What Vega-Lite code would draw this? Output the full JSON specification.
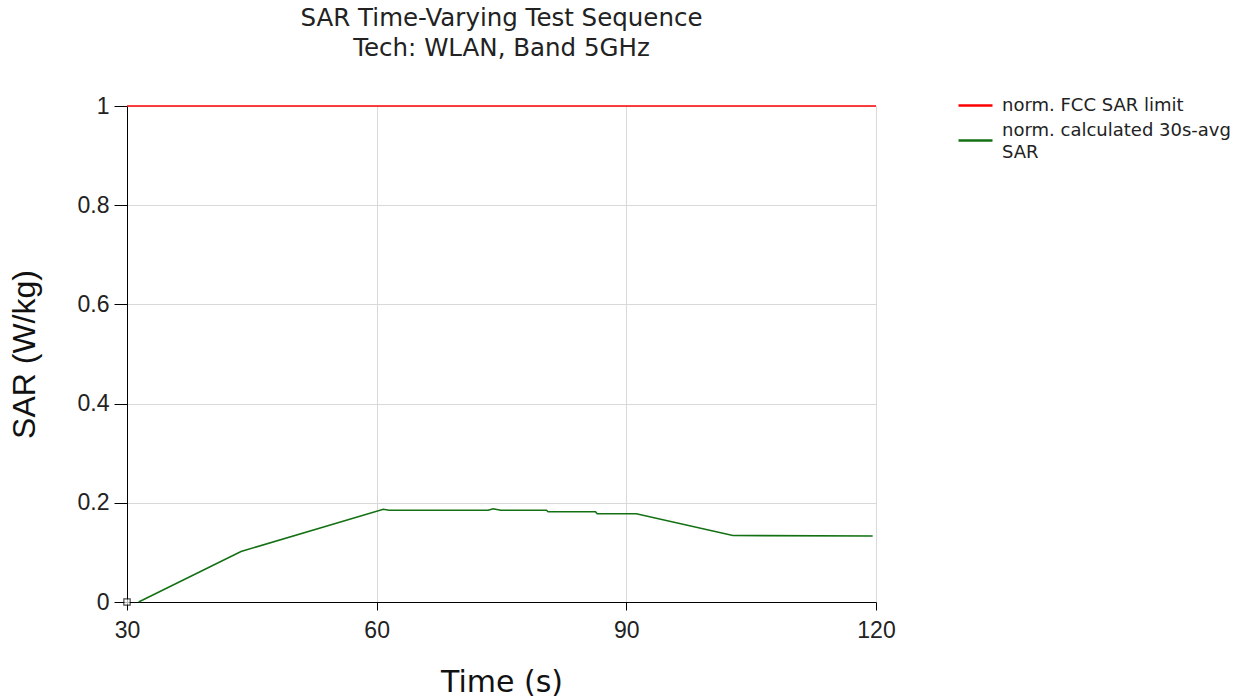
{
  "$schema": "https://vega.github.io/schema/vega-lite/v6.json",
  "autosize": {"type": "none"},
  "padding": {"left": 127, "top": 106, "right": 379, "bottom": 96},
  "width": 749,
  "height": 496,
  "background": "white",
  "title": {
    "text": ["SAR Time-Varying Test Sequence", "Tech: WLAN, Band 5GHz"],
    "font": "DejaVu Sans",
    "fontSize": 24.5,
    "fontWeight": "normal",
    "color": "#222222",
    "anchor": "middle",
    "frame": "group",
    "offset": 26,
    "lineHeight": 30
  },
  "config": {
    "view": {"stroke": null},
    "axis": {
      "labelFont": "Liberation Sans",
      "labelFontSize": 23,
      "labelColor": "#222222",
      "labelFlush": false,
      "titleFontWeight": "normal",
      "titleColor": "#111111",
      "gridColor": "#d9d9d9",
      "gridWidth": 1,
      "domainColor": "#000000",
      "tickColor": "#000000"
    }
  },
  "datasets": {
    "lines": [
      {"t": 30, "v": 1, "series": "norm. FCC SAR limit"},
      {"t": 120, "v": 1, "series": "norm. FCC SAR limit"},
      {"t": 31.4, "v": 0, "series": "norm. calculated 30s-avg SAR"},
      {"t": 43.7, "v": 0.102, "series": "norm. calculated 30s-avg SAR"},
      {"t": 60.8, "v": 0.187, "series": "norm. calculated 30s-avg SAR"},
      {"t": 61.5, "v": 0.185, "series": "norm. calculated 30s-avg SAR"},
      {"t": 73.4, "v": 0.185, "series": "norm. calculated 30s-avg SAR"},
      {"t": 74.0, "v": 0.188, "series": "norm. calculated 30s-avg SAR"},
      {"t": 74.9, "v": 0.185, "series": "norm. calculated 30s-avg SAR"},
      {"t": 80.4, "v": 0.185, "series": "norm. calculated 30s-avg SAR"},
      {"t": 80.6, "v": 0.182, "series": "norm. calculated 30s-avg SAR"},
      {"t": 86.3, "v": 0.182, "series": "norm. calculated 30s-avg SAR"},
      {"t": 86.5, "v": 0.178, "series": "norm. calculated 30s-avg SAR"},
      {"t": 91.2, "v": 0.178, "series": "norm. calculated 30s-avg SAR"},
      {"t": 102.8, "v": 0.134, "series": "norm. calculated 30s-avg SAR"},
      {"t": 119.6, "v": 0.133, "series": "norm. calculated 30s-avg SAR"}
    ],
    "origin": [{"t": 30, "v": 0}]
  },
  "layer": [
    {
      "data": {"name": "lines"},
      "mark": {"type": "line", "strokeWidth": 1.6, "clip": false},
      "encoding": {
        "x": {
          "field": "t", "type": "quantitative",
          "scale": {"domain": [30, 120], "nice": false, "zero": false},
          "axis": {
            "values": [30, 60, 90, 120],
            "title": "Time (s)",
            "titleFont": "DejaVu Sans",
            "titleFontSize": 30,
            "titlePadding": 25,
            "tickSize": 8,
            "labelPadding": 9,
            "grid": true
          }
        },
        "y": {
          "field": "v", "type": "quantitative",
          "scale": {"domain": [0, 1], "nice": false},
          "axis": {
            "values": [0, 0.2, 0.4, 0.6, 0.8, 1],
            "labelExpr": "datum.value == 0 ? '0' : datum.value == 1 ? '1' : format(datum.value, '.1f')",
            "title": "SAR (W/kg)",
            "titleFont": "Liberation Sans",
            "titleFontSize": 32,
            "titlePadding": 36,
            "tickSize": 13,
            "labelPadding": 5,
            "grid": true
          }
        },
        "color": {
          "field": "series", "type": "nominal",
          "scale": {
            "domain": ["norm. FCC SAR limit", "norm. calculated 30s-avg SAR"],
            "range": ["#ff0000", "#137013"]
          },
          "legend": {
            "title": null,
            "orient": "none",
            "legendX": 830,
            "legendY": -19,
            "symbolType": "stroke",
            "symbolSize": 1156,
            "symbolStrokeWidth": 2.5,
            "labelFont": "DejaVu Sans",
            "labelFontSize": 18,
            "labelColor": "#222222",
            "labelLimit": 400,
            "labelOffset": 8,
            "rowPadding": 6,
            "labelExpr": "datum.label == 'norm. calculated 30s-avg SAR' ? ['norm. calculated 30s-avg', 'SAR'] : datum.label",
            "encode": {
              "labels": {
                "update": {
                  "lineHeight": {"value": 22},
                  "dy": {"signal": "datum.value == 'norm. calculated 30s-avg SAR' ? -10 : 0"}
                }
              }
            }
          }
        }
      }
    },
    {
      "data": {"name": "origin"},
      "mark": {"type": "point", "shape": "square", "size": 40, "filled": true, "fill": "white", "stroke": "black", "strokeWidth": 1.2, "clip": false},
      "encoding": {
        "x": {"field": "t", "type": "quantitative"},
        "y": {"field": "v", "type": "quantitative"}
      }
    }
  ]
}
